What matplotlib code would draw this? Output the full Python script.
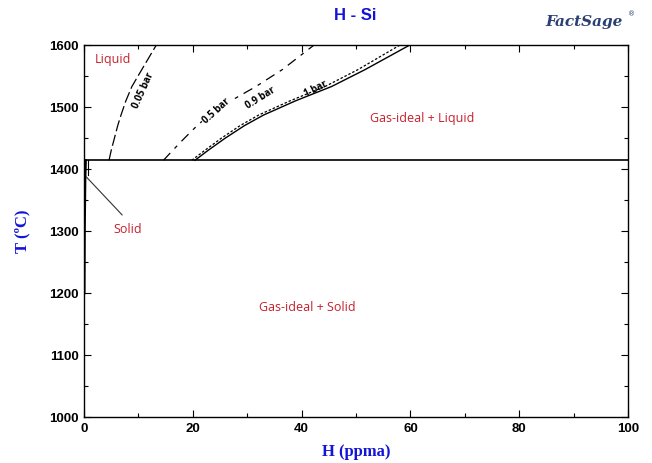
import matplotlib
matplotlib.use("Agg")
import matplotlib.pyplot as plt
from matplotlib.ticker import MultipleLocator

# ---- data ----
T_pts = [1414, 1430, 1450, 1470, 1487, 1510, 1533, 1560, 1600]
h_1bar = [20.4, 22.8, 26.0, 29.5, 33.0, 38.9, 45.5, 51.6, 59.9]
h_09bar = [19.8, 22.2, 25.3, 28.7, 32.1, 37.9, 44.3, 50.3, 58.1]
h_05bar = [14.6, 16.3, 18.5, 20.8, 23.0, 27.0, 31.6, 36.4, 42.3]
h_005bar = [4.6, 5.0, 5.6, 6.2, 6.8, 7.7, 8.8, 10.6, 13.3]

T_melt = 1414
solid_h = [0.05, 0.1, 0.2, 0.3]
solid_T = [1200, 1300, 1380, 1414]

x_ticks = [0, 20, 40, 60, 80, 100]
y_ticks = [1000, 1100, 1200, 1300, 1400, 1500, 1600]

blue = "#1414d8"
red = "#c4202c"

fig = plt.figure(figsize=(6.52, 4.63), dpi=100)
ax = fig.add_axes([84/652, 46/463, 544/652, 372/463])

ax.plot(h_1bar, T_pts, color="black", lw=1.0)
ax.plot(h_09bar, T_pts, color="black", lw=0.9, linestyle=(0, (2, 1.5)))
ax.plot(h_05bar, T_pts, color="black", lw=0.9, linestyle=(0, (8, 5, 3, 5)))
ax.plot(h_005bar, T_pts, color="black", lw=0.9, linestyle=(0, (9, 3)))

ax.plot([0, 100], [T_melt, T_melt], color="black", lw=1.2)
ax.plot(solid_h, solid_T, color="black", lw=1.8)
ax.plot([0.8, 0.8], [1390, T_melt], color="black", lw=0.8)
ax.plot([0.45, 7.0], [1387, 1326], color="#333333", lw=0.8)

ax.set_xlim(0, 100)
ax.set_ylim(1000, 1600)
ax.set_xticks(x_ticks)
ax.set_yticks(y_ticks)
ax.xaxis.set_minor_locator(MultipleLocator(10))
ax.yaxis.set_minor_locator(MultipleLocator(50))
ax.tick_params(which="both", direction="in", top=True, right=True)
ax.tick_params(which="major", length=5, width=0.8, pad=4)
ax.tick_params(which="minor", length=3, width=0.8)
for lab in ax.get_xticklabels() + ax.get_yticklabels():
    lab.set_fontfamily("Liberation Sans")
    lab.set_fontweight("bold")
    lab.set_fontsize(9.5)
for s in ax.spines.values():
    s.set_linewidth(1.0)

ax.set_xlabel("H (ppma)", fontfamily="Liberation Serif", fontweight="bold",
              fontsize=12, color=blue, labelpad=7)
ax.set_ylabel("T (ºC)", fontfamily="Liberation Serif", fontweight="bold",
              fontsize=12, color=blue, labelpad=13)

lbl = dict(fontfamily="Open Sans", fontsize=9, color=red, ha="center", va="center")
ax.text(5.3, 1576, "Liquid", **lbl)
ax.text(62.1, 1481, "Gas-ideal + Liquid", **lbl)
ax.text(41.0, 1177, "Gas-ideal + Solid", **lbl)
ax.text(8.1, 1302, "Solid", **lbl)

cl = dict(fontfamily="Open Sans", fontsize=7, fontweight="bold",
          color="black", ha="center", va="center", rotation_mode="anchor")
ax.text(11.0, 1527, "0.05 bar", rotation=66, **cl)
ax.text(24.4, 1493, "0.5 bar", rotation=42,
        bbox=dict(facecolor="white", edgecolor="none", pad=1.0), **cl)
ax.text(32.4, 1515, "0.9 bar", rotation=32, **cl)
ax.text(42.6, 1529, "1 bar", rotation=27, **cl)

fig.text(355/652, 1 - 15/463, "H - Si", fontfamily="Liberation Sans",
         fontweight="bold", fontsize=12, color=blue, ha="center", va="center")
fig.text(584/652, 1 - 22/463, "FactSage", fontfamily="DejaVu Serif",
         fontweight="bold", fontstyle="italic", fontsize=11, color="#2b3f73",
         ha="center", va="center")
fig.text(632/652, 1 - 14/463, "®", fontsize=5, color="#2b3f73",
         ha="center", va="center")

fig.savefig("out.png", dpi=100)
